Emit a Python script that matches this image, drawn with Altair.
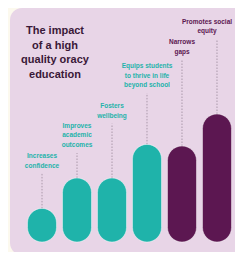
import altair as alt
import pandas as pd

# ---- data ----
impacts = ["Increases confidence", "Improves academic outcomes", "Fosters wellbeing",
           "Equips students to thrive in life beyond school", "Narrows gaps", "Promotes social equity"]
label_lines = [["Increases", "confidence"],
               ["Improves", "academic", "outcomes"],
               ["Fosters", "wellbeing"],
               ["Equips students", "to thrive in life", "beyond school"],
               ["Narrows", "gaps"],
               ["Promotes social", "equity"]]
impact_level = [1.05, 2.0, 2.0, 3.05, 3.0, 4.0]
label_level = [2.78, 3.72, 4.34, 5.59, 6.34, 6.97]
group = ["teal", "teal", "teal", "teal", "purple", "purple"]
title_lines = ["The impact", "of a high", "quality oracy", "education"]

LINE_H = 9.5
UNIT_PX = 32.0

df = pd.DataFrame({
    "impact": impacts,
    "level": impact_level,
    "label_top": label_level,
    "group": group,
})
df["lines"] = label_lines
df["label_bottom"] = [t - len(l) * LINE_H / UNIT_PX - 0.05 for t, l in zip(label_level, label_lines)]

W, H = 227, 244

x = alt.X("impact:N", sort=impacts, axis=None,
          scale=alt.Scale(range=[19.5, 223.5], paddingInner=0.171, paddingOuter=0))
yscale = alt.Scale(domain=[-0.3125, 7.3125], nice=False, zero=False)
color = alt.Color("group:N", legend=None,
                  scale=alt.Scale(domain=["teal", "purple"], range=["#1fb3aa", "#5c1751"]))

panel = alt.Chart(pd.DataFrame({"a": [0]})).mark_rect(
    color="#e8d5e7", cornerRadius=12
).encode(x=alt.value(2), x2=alt.value(270), y=alt.value(0), y2=alt.value(H + 3))

base = alt.Chart(df)

leaders = base.mark_rule(strokeWidth=0.8, strokeDash=[1.5, 1.5], color="#9c8a9c").encode(
    x=x,
    y=alt.Y("level:Q", scale=yscale, axis=None),
    y2="label_bottom:Q",
)

bars = base.mark_bar(cornerRadius=14.5, stroke="white", strokeOpacity=0.45, strokeWidth=1).encode(
    x=x,
    y=alt.Y("level:Q", scale=yscale, axis=None),
    y2=alt.datum(0),
    color=color,
)

text_style = dict(font="Liberation Sans", fontSize=6.5, fontWeight="bold",
                  baseline="top", align="center", lineHeight=LINE_H)
label_enc = dict(
    x=x,
    y=alt.Y("label_top:Q", scale=yscale, axis=None),
    text="lines",
    color=color,
)
last = impacts[-1]
labels = base.transform_filter(alt.datum.impact != last).mark_text(**text_style).encode(**label_enc)
label_last = base.transform_filter(alt.datum.impact == last).mark_text(dx=-10, **text_style).encode(**label_enc)

title = alt.Chart(pd.DataFrame({"a": [0]})).mark_text(
    font="Liberation Sans", fontSize=11, fontWeight="bold", color="#3a1838",
    align="center", baseline="top", lineHeight=14.5
).encode(x=alt.value(47), y=alt.value(17), text=alt.value(title_lines))

chart = alt.layer(panel, leaders, bars, labels, label_last, title).properties(
    width=W, height=H, background="#fcf9ee", padding=0,
    autosize=alt.AutoSizeParams(type="none"),
).configure_view(stroke=None)

chart.save("out.html", embed_options={"renderer": "svg", "actions": False})
